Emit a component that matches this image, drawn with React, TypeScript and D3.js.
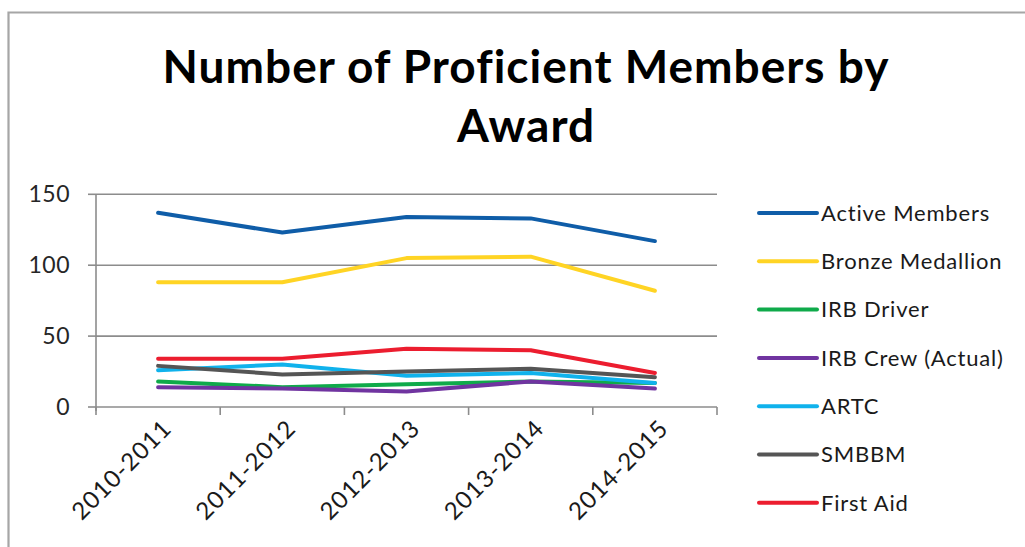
import React from "react";
import * as d3 from "d3";

const categories = ["2010-2011", "2011-2012", "2012-2013", "2013-2014", "2014-2015"];
const seriesNames = ["Active Members", "Bronze Medallion", "IRB Driver", "IRB Crew (Actual)", "ARTC", "SMBBM", "First Aid"];
const activeMembers = [137, 123, 134, 133, 117];
const bronzeMedallion = [88, 88, 105, 106, 82];
const irbDriver = [18, 14, 16, 18, 17];
const irbCrew = [14, 13, 11, 18, 13];
const artc = [26, 30, 22, 24, 17];
const smbbm = [29, 23, 25, 27, 21];
const firstAid = [34, 34, 41, 40, 24];
const yTicks = [0, 50, 100, 150];
const colors = ["#0F5DA8", "#FFD424", "#0FAA4A", "#7034A0", "#10B2EC", "#555555", "#EC1D2F"];

const seriesValues = [activeMembers, bronzeMedallion, irbDriver, irbCrew, artc, smbbm, firstAid];

export default function App() {
  const W = 1025, H = 547;
  const left = 96, right = 717, top = 194.3, bottom = 407;
  const x = d3.scaleBand().domain(categories).range([left, right]);
  const y = d3.scaleLinear().domain([0, 150]).range([bottom, top]);
  const line = d3.line<number>()
    .x((_, i) => (x(categories[i]) as number) + x.bandwidth() / 2)
    .y((d) => y(d));
  const font = "Lato, 'Open Sans', sans-serif";
  const gridColor = "#8c8c8c";
  const bounds = [...categories.map((c) => x(c) as number), right];
  return (
    <svg width={W} height={H} style={{ position: "absolute", left: 0, top: 0, background: "#fff" }}>
      <rect x={0} y={0} width={W} height={H} fill="#fff" />
      <path d={`M8.5,${H} L8.5,12.5 L${W},12.5`} fill="none" stroke="#a6a6a6" strokeWidth={2.2} />
      <text x={526} y={83} textAnchor="middle" fontFamily={font} fontWeight={700} fontSize={46} letterSpacing={1} fill="#000">
        Number of Proficient Members by
      </text>
      <text x={526} y={141.5} textAnchor="middle" fontFamily={font} fontWeight={700} fontSize={46} letterSpacing={1} fill="#000">
        Award
      </text>
      {yTicks.map((t) => (
        <g key={t}>
          {t > 0 && <line x1={left} x2={right} y1={y(t)} y2={y(t)} stroke={gridColor} strokeWidth={1.6} />}
          <line x1={left - 8} x2={left} y1={y(t)} y2={y(t)} stroke={gridColor} strokeWidth={1.6} />
          <text x={70} y={y(t)} dy="0.35em" textAnchor="end" fontFamily={font} fontSize={23} letterSpacing={0.5} fill="#262626">
            {t}
          </text>
        </g>
      ))}
      <line x1={left} x2={left} y1={top} y2={bottom + 4} stroke={gridColor} strokeWidth={1.6} />
      <line x1={left} x2={right} y1={bottom} y2={bottom} stroke={gridColor} strokeWidth={1.6} />
      {bounds.map((b, i) => (
        <line key={i} x1={b} x2={b} y1={bottom} y2={bottom + 8} stroke={gridColor} strokeWidth={1.6} />
      ))}
      {categories.map((c) => {
        const cx = (x(c) as number) + x.bandwidth() / 2;
        return (
          <text key={c} transform={`translate(${cx + 9},${424}) rotate(-45)`} textAnchor="end" dy="0.35em"
            fontFamily={font} fontSize={24} letterSpacing={1} fill="#1a1a1a">
            {c}
          </text>
        );
      })}
      {seriesValues.map((vals, i) => (
        <path key={seriesNames[i]} d={line(vals) as string} fill="none" stroke={colors[i]} strokeWidth={4}
          strokeLinejoin="round" strokeLinecap="round" />
      ))}
      {seriesNames.map((n, i) => {
        const ly = 213 + i * 48.3;
        return (
          <g key={n}>
            <line x1={759} x2={817} y1={ly} y2={ly} stroke={colors[i]} strokeWidth={4} strokeLinecap="round" />
            <text x={821} y={ly} dy="0.35em" fontFamily={font} fontSize={22} letterSpacing={0.8} fill="#1a1a1a">
              {n}
            </text>
          </g>
        );
      })}
    </svg>
  );
}
